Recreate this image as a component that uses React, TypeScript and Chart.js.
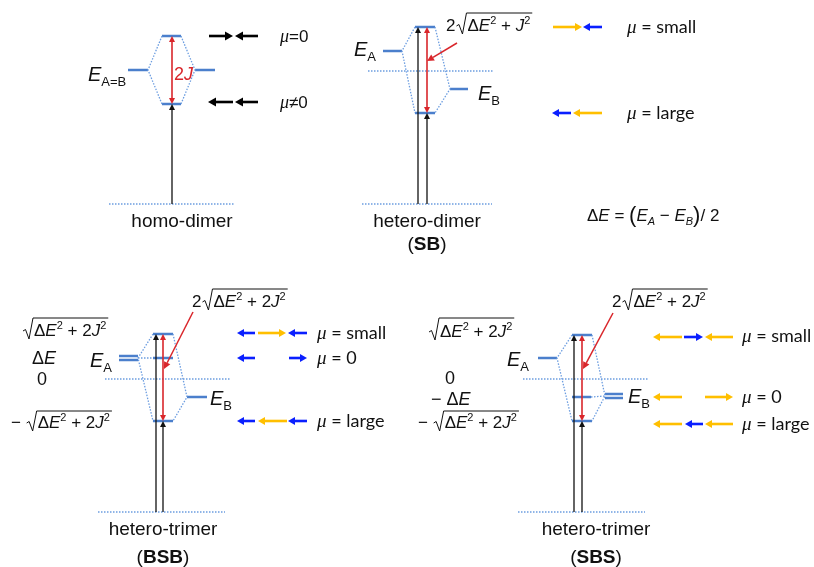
import React, { useEffect, useRef } from "react";
import { Chart, registerables } from "chart.js";
Chart.register(...registerables);

// ---------- DATA (diagram units: x across, y = energy axis, downward) ----------
// energy levels: [x start, x end, level]
const homoLevels = [[128, 148, 70], [195, 215, 70], [162, 181, 36], [162, 181, 104]];
const sbLevels = [[383, 402, 51], [450, 468, 89], [415, 435, 27], [415, 435, 113]];
const bsbLevels = [[119, 138, 356], [119, 138, 360], [153, 173, 334], [153, 173, 358], [153, 173, 421], [187, 207, 397]];
const sbsLevels = [[538, 557, 358], [605, 623, 394], [605, 623, 398], [572, 592, 335], [572, 591, 397], [572, 592, 421]];

// correlation (dotted) polylines: list of [x, level]
const correlations = [
  [[162, 36], [148, 70], [162, 104]], [[181, 36], [195, 70], [181, 104]],
  [[415, 27], [402, 51], [415, 113]], [[435, 27], [450, 89], [435, 113]],
  [[153, 334], [138, 358], [153, 421]], [[173, 334], [187, 397], [173, 421]], [[138, 358], [153, 358]],
  [[572, 335], [557, 358], [572, 421]], [[592, 335], [605, 396], [592, 421]], [[591, 397], [605, 396]],
];

// reference / ground lines: [x start, x end, level]
const referenceLines = [[368, 493, 71], [105, 230, 379], [523, 649, 379], [109, 234, 204], [362, 492, 204], [98, 225, 512], [518, 645, 512]];

// excitation arrows (ground -> level): [x, from, to]
const excitations = [[172, 204, 104], [418, 204, 27], [427, 204, 113], [156, 512, 334], [163, 512, 421], [574, 512, 335], [582, 512, 421]];
// splitting (double-headed): [x, top, bottom]
const splittings = [[172, 36, 104], [427, 27, 113], [163, 334, 421], [582, 335, 421]];
// pointer arrows: [x from, y from, x to, y to]
const pointers = [[457, 43, 427, 61], [193, 312, 164, 369], [613, 313, 583, 369]];

// transition dipole arrows: [x tail, x head, level, kind]  k = homo, o = S unit, b = B unit
const dipoles: [number, number, number, string][] = [
  [209, 233, 36, "k"], [258, 235, 36, "k"], [233, 208, 102, "k"], [258, 235, 102, "k"],
  [553, 582, 27, "o"], [602, 583, 27, "b"], [571, 552, 113, "b"], [602, 573, 113, "o"],
  [255, 237, 333, "b"], [258, 286, 333, "o"], [307, 288, 333, "b"],
  [255, 237, 358, "b"], [289, 307, 358, "b"],
  [255, 237, 421, "b"], [287, 258, 421, "o"], [307, 288, 421, "b"],
  [682, 653, 337, "o"], [684, 703, 337, "b"], [733, 705, 337, "o"],
  [682, 653, 397, "o"], [705, 733, 397, "o"],
  [682, 653, 424, "o"], [703, 685, 424, "b"], [733, 705, 424, "o"],
];

// mu labels: [text after mu, x, level]
const muHomo: [string, number, number][] = [["=0", 280, 36], ["\u22600", 280, 102]];
const muLabels: [string, number, number][] = [
  [" = small", 627, 27], [" = large", 627, 113],
  [" = small", 317, 333], [" = 0", 317, 358], [" = large", 317, 421],
  [" = small", 742, 336], [" = 0", 742, 397], [" = large", 742, 424],
];

// panel captions: [text, x center, y]
const captions: [string, number, number][] = [
  ["homo-dimer", 182, 220], ["hetero-dimer", 427, 220], ["hetero-trimer", 163, 528], ["hetero-trimer", 596, 528],
];
const captionsBold: [string, number, number][] = [["SB", 427, 243], ["BSB", 163, 556], ["SBS", 596, 556]];

// E labels: [subscript, x, baseline]
const eLabels: [string, number, number][] = [
  ["A=B", 88, 81], ["A", 354, 56], ["B", 478, 100], ["A", 90, 367], ["B", 210, 405], ["A", 507, 366], ["B", 628, 403],
];

const LEVEL = "#4b7fcc";
const DOT = "#6c9de0";
const RED = "#d9262b";
const ORANGE = "#ffbf00";
const BLUE = "#0a1fff";
const SANS = "'Liberation Sans', Arial, sans-serif";

type Run = { t: string; f: string; dy?: number };

function drawRuns(ctx: CanvasRenderingContext2D, x: number, y: number, rs: Run[], align = "left") {
  let w = 0;
  for (const r of rs) { ctx.font = r.f; w += ctx.measureText(r.t).width; }
  let cx = align === "center" ? x - w / 2 : x;
  for (const r of rs) {
    ctx.font = r.f;
    ctx.fillText(r.t, cx, y + (r.dy || 0));
    cx += ctx.measureText(r.t).width;
  }
  return cx;
}

function inner(two: boolean): Run[] {
  const F = `17px ${SANS}`, I = `italic 17px ${SANS}`, S = `11px ${SANS}`;
  return [
    { t: "\u0394", f: F }, { t: "E", f: I }, { t: "2", f: S, dy: -7 },
    { t: " + " + (two ? "2" : ""), f: F }, { t: "J", f: I }, { t: "2", f: S, dy: -7 },
  ];
}

function sqrtExpr(ctx: CanvasRenderingContext2D, x: number, base: number, overY: number, prefix: string, two: boolean) {
  let cx = prefix ? drawRuns(ctx, x, base, [{ t: prefix, f: `17px ${SANS}` }]) : x;
  const rx = cx + 1;
  const end = drawRuns(ctx, rx + 11, base, inner(two));
  ctx.beginPath();
  ctx.moveTo(rx, base - 5);
  ctx.lineTo(rx + 2.5, base - 6.5);
  ctx.lineTo(rx + 6, base + 3);
  ctx.lineTo(rx + 10, overY);
  ctx.lineTo(end + 2, overY);
  ctx.lineWidth = 1;
  ctx.stroke();
}

function arrowHead(ctx: CanvasRenderingContext2D, x1: number, y1: number, x2: number, y2: number, len: number, half: number) {
  const a = Math.atan2(y2 - y1, x2 - x1);
  const bx = x2 - len * Math.cos(a), by = y2 - len * Math.sin(a);
  ctx.beginPath();
  ctx.moveTo(x2, y2);
  ctx.lineTo(bx + half * Math.sin(a), by - half * Math.cos(a));
  ctx.lineTo(bx - half * Math.sin(a), by + half * Math.cos(a));
  ctx.closePath();
  ctx.fill();
  return [bx, by];
}

function arrow(ctx: CanvasRenderingContext2D, x1: number, y1: number, x2: number, y2: number, color: string, w: number, len: number, half: number) {
  ctx.strokeStyle = color; ctx.fillStyle = color; ctx.lineWidth = w;
  const [bx, by] = arrowHead(ctx, x1, y1, x2, y2, len, half);
  ctx.beginPath(); ctx.moveTo(x1, y1); ctx.lineTo(bx, by); ctx.stroke();
}

function segData(list: number[][]) {
  const d: any[] = [];
  for (const [a, b, y] of list) { d.push({ x: a, y }, { x: b, y }, { x: b, y: null }); }
  return d;
}
function polyData(list: number[][][]) {
  const d: any[] = [];
  for (const p of list) { for (const [x, y] of p) d.push({ x, y }); d.push({ x: p[p.length - 1][0], y: null }); }
  return d;
}

const diagramPlugin = {
  id: "diagram",
  afterDatasetsDraw(chart: any) {
    const ctx: CanvasRenderingContext2D = chart.ctx;
    const X = (v: number) => chart.scales.x.getPixelForValue(v);
    const Y = (v: number) => chart.scales.y.getPixelForValue(v);
    ctx.save();
    ctx.lineCap = "butt";
    // excitation arrows
    for (const [x, f, t] of excitations) arrow(ctx, X(x), Y(f), X(x), Y(t), "#111", 1.3, 6, 3);
    // splitting double arrows
    for (const [x, t, b] of splittings) {
      ctx.fillStyle = RED; ctx.strokeStyle = RED; ctx.lineWidth = 1.6;
      const [, b1] = arrowHead(ctx, X(x), Y(b), X(x), Y(t), 6, 3);
      const [, b2] = arrowHead(ctx, X(x), Y(t), X(x), Y(b), 6, 3);
      ctx.beginPath(); ctx.moveTo(X(x), b1); ctx.lineTo(X(x), b2); ctx.stroke();
    }
    for (const [x1, y1, x2, y2] of pointers) arrow(ctx, X(x1), Y(y1), X(x2), Y(y2), RED, 1.5, 7, 3.5);
    // dipoles
    for (const [a, b, y, k] of dipoles) {
      const c = k === "k" ? "#000" : k === "o" ? ORANGE : BLUE;
      if (k === "k") arrow(ctx, X(a), Y(y), X(b), Y(y), c, 2.6, 8, 4.5);
      else arrow(ctx, X(a), Y(y), X(b), Y(y), c, 2.6, 7, 4);
    }
    // texts
    ctx.fillStyle = "#111";
    ctx.textBaseline = "alphabetic";
    for (const [t, x, y] of muHomo) {
      drawRuns(ctx, X(x), Y(y) + 6, [{ t: "\u03bc", f: `italic 18px 'Liberation Serif', serif` }, { t, f: `17px ${SANS}` }]);
    }
    for (const [t, x, y] of muLabels) {
      drawRuns(ctx, X(x), Y(y) + 6, [{ t: "\u03bc", f: `italic 19px 'Liberation Serif', serif` }, { t, f: `18px Lato, sans-serif` }]);
    }
    for (const [t, x, y] of captions) {
      drawRuns(ctx, X(x), Y(y) + 7, [{ t, f: `19px ${SANS}` }], "center");
    }
    for (const [t, x, y] of captionsBold) {
      drawRuns(ctx, X(x), Y(y) + 7, [{ t: "(", f: `19px ${SANS}` }, { t, f: `bold 19px ${SANS}` }, { t: ")", f: `19px ${SANS}` }], "center");
    }
    for (const [s, x, y] of eLabels) {
      drawRuns(ctx, X(x), Y(y), [{ t: "E", f: `italic 20px ${SANS}` }, { t: s, f: `13px ${SANS}`, dy: 5 }]);
    }
    // 2J
    ctx.fillStyle = RED;
    drawRuns(ctx, X(174), Y(80), [{ t: "2", f: `18px ${SANS}` }, { t: "J", f: `italic 18px ${SANS}` }]);
    // splitting formulas
    ctx.fillStyle = "#111"; ctx.strokeStyle = "#111";
    sqrtExpr(ctx, X(446), Y(31), Y(13), "2", false);
    sqrtExpr(ctx, X(192), Y(307), Y(289), "2", true);
    sqrtExpr(ctx, X(612), Y(307), Y(289), "2", true);
    // BSB energies
    sqrtExpr(ctx, X(22), Y(336), Y(318), "", true);
    drawRuns(ctx, X(32), Y(364), [{ t: "\u0394", f: `18px ${SANS}` }, { t: "E", f: `italic 18px ${SANS}` }]);
    drawRuns(ctx, X(37), Y(385), [{ t: "0", f: `18px ${SANS}` }]);
    sqrtExpr(ctx, X(11), Y(428), Y(411), "\u2212 ", true);
    // SBS energies
    sqrtExpr(ctx, X(428), Y(337), Y(318), "", true);
    drawRuns(ctx, X(445), Y(384), [{ t: "0", f: `18px ${SANS}` }]);
    drawRuns(ctx, X(431), Y(405), [{ t: "\u2212 \u0394", f: `18px ${SANS}` }, { t: "E", f: `italic 18px ${SANS}` }]);
    sqrtExpr(ctx, X(418), Y(428), Y(411), "\u2212 ", true);
    // Delta E definition
    const F = `17px ${SANS}`, I = `italic 17px ${SANS}`, Sb = `italic 11px ${SANS}`, P = `22px ${SANS}`;
    drawRuns(ctx, X(587), Y(221), [
      { t: "\u0394", f: F }, { t: "E", f: I }, { t: " = ", f: F }, { t: "(", f: P, dy: 1 },
      { t: "E", f: I }, { t: "A", f: Sb, dy: 4 }, { t: " \u2212 ", f: F }, { t: "E", f: I }, { t: "B", f: Sb, dy: 4 },
      { t: ")", f: P, dy: 1 }, { t: "/ 2", f: F },
    ]);
    ctx.restore();
  },
};

export default function App() {
  const ref = useRef<HTMLCanvasElement>(null);
  useEffect(() => {
    if (!ref.current) return;
    const lvl = { showLine: true, borderColor: LEVEL, borderWidth: 2.6, pointRadius: 0, spanGaps: false, fill: false };
    const chart = new Chart(ref.current, {
      type: "scatter",
      data: {
        datasets: [
          { ...lvl, data: polyData(correlations), borderColor: DOT, borderWidth: 1.3, borderDash: [1.5, 1.5] },
          { ...lvl, data: segData(referenceLines), borderColor: DOT, borderWidth: 1.3, borderDash: [1.5, 1.5] },
          { ...lvl, data: segData(homoLevels) },
          { ...lvl, data: segData(sbLevels) },
          { ...lvl, data: segData(bsbLevels) },
          { ...lvl, data: segData(sbsLevels) },
        ] as any,
      },
      options: {
        responsive: false,
        maintainAspectRatio: false,
        animation: false,
        events: [],
        layout: { padding: 0 },
        plugins: { legend: { display: false }, tooltip: { enabled: false } },
        scales: {
          x: { type: "linear", min: 0, max: 814, display: false },
          y: { type: "linear", min: 0, max: 567, reverse: true, display: false },
        },
      },
      plugins: [diagramPlugin],
    });
    return () => chart.destroy();
  }, []);
  return (
    <div style={{ position: "absolute", left: 0, top: 0, width: 814, height: 567, background: "#fff" }}>
      <canvas ref={ref} width={814} height={567} style={{ width: 814, height: 567, display: "block" }} />
    </div>
  );
}
